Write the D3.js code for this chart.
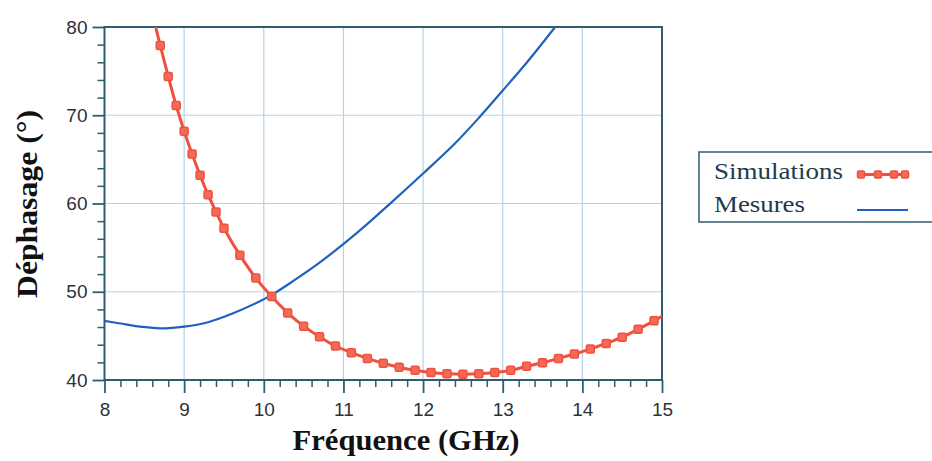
<!DOCTYPE html>
<html><head><meta charset="utf-8">
<script src="https://cdn.jsdelivr.net/npm/d3@7"></script>
<style>
html,body{margin:0;padding:0;background:#fff;}
svg{display:block;}
</style></head>
<body>
<svg id="chart" width="932" height="461"></svg>
<script>
// ---- data ----
const xTicks = [8, 9, 10, 11, 12, 13, 14, 15];
const yTicks = [40, 50, 60, 70, 80];
const simFreq = [8.6, 8.7, 8.8, 8.9, 9.0, 9.1, 9.2, 9.3, 9.4, 9.5, 9.7, 9.9, 10.1, 10.3, 10.5, 10.7, 10.9, 11.1, 11.3, 11.5, 11.7, 11.9, 12.1, 12.3, 12.5, 12.7, 12.9, 13.1, 13.3, 13.5, 13.7, 13.9, 14.1, 14.3, 14.5, 14.7, 14.9, 15.1];
const simVal  = [81.6, 77.9, 74.4, 71.1, 68.2, 65.6, 63.2, 61.0, 59.05, 57.2, 54.15, 51.55, 49.45, 47.6, 46.1, 44.9, 43.85, 43.1, 42.45, 41.9, 41.45, 41.1, 40.85, 40.7, 40.65, 40.7, 40.85, 41.1, 41.55, 41.95, 42.45, 42.95, 43.5, 44.15, 44.85, 45.75, 46.7, 47.75];
const mesFreq = [8.0, 8.2, 8.45, 8.7, 9.0, 9.3, 9.6, 9.9, 10.1, 10.35, 10.7, 11.2, 11.6, 12.0, 12.4, 12.7, 13.0, 13.3, 13.65, 13.8];
const mesVal  = [46.7, 46.4, 46.05, 45.85, 46.05, 46.55, 47.5, 48.7, 49.65, 51.1, 53.3, 56.9, 60.1, 63.4, 66.8, 69.7, 72.8, 75.95, 79.9, 81.65];
const seriesNames = ["Simulations", "Mesures"];

// ---- layout ----
const svg = d3.select("#chart");
const L = 104.5, R = 662, T = 27, B = 380;
const axisColor = "#2f5d70", gridColor = "#b3d4e5";
const redLine = "#f0503e", redFill = "#f46a58", blue = "#2061c0";
const serif = "'Liberation Serif', 'DejaVu Serif', serif";

const x = d3.scaleLinear().domain([8, 15]).range([L, R]);
const y = d3.scaleLinear().domain([40, 80]).range([B, T]);

svg.append("defs").append("clipPath").attr("id", "clip")
  .append("rect").attr("x", L).attr("y", T).attr("width", R - L).attr("height", B - T);

// grid
const grid = svg.append("g");
grid.selectAll("line.vx").data(xTicks.slice(1, -1)).join("line")
  .attr("x1", d => x(d)).attr("x2", d => x(d)).attr("y1", T).attr("y2", B)
  .attr("stroke", gridColor).attr("stroke-width", 1.2);
grid.selectAll("line.hy").data(yTicks.slice(1, -1)).join("line")
  .attr("y1", d => y(d)).attr("y2", d => y(d)).attr("x1", L).attr("x2", R)
  .attr("stroke", gridColor).attr("stroke-width", 1.2);

// minor ticks
const xMinor = d3.range(80, 151, 2).map(v => v / 10).filter(v => !xTicks.includes(v));
const yMinor = d3.range(40, 81, 2).filter(v => !yTicks.includes(v));

const gxMinor = svg.append("g").attr("transform", `translate(0,${B})`)
  .call(d3.axisBottom(x).tickValues(xMinor).tickSize(7).tickFormat(""));
const gyMinor = svg.append("g").attr("transform", `translate(${L},0)`)
  .call(d3.axisLeft(y).tickValues(yMinor).tickSize(7).tickFormat(""));
[gxMinor, gyMinor].forEach(g => {
  g.select(".domain").remove();
  g.selectAll("line").attr("stroke", axisColor).attr("stroke-width", 1.5);
});

// major axes
const gx = svg.append("g").attr("transform", `translate(0,${B})`)
  .call(d3.axisBottom(x).tickValues(xTicks).tickSize(13).tickPadding(10).tickFormat(d3.format("d")));
const gy = svg.append("g").attr("transform", `translate(${L},0)`)
  .call(d3.axisLeft(y).tickValues(yTicks).tickSize(12).tickPadding(5).tickFormat(d3.format("d")));
[gx, gy].forEach(g => {
  g.select(".domain").remove();
  g.selectAll("line").attr("stroke", axisColor).attr("stroke-width", 1.8);
  g.selectAll("text").attr("fill", "#2d3338")
    .style("font-family", "'Liberation Sans', Arial, sans-serif").style("font-size", "19px");
});

// frame
svg.append("rect").attr("x", L).attr("y", T).attr("width", R - L).attr("height", B - T)
  .attr("fill", "none").attr("stroke", axisColor).attr("stroke-width", 2);

// series
const plot = svg.append("g").attr("clip-path", "url(#clip)");
const simData = simFreq.map((f, i) => ({ f, v: simVal[i] }));
const mesData = mesFreq.map((f, i) => ({ f, v: mesVal[i] }));
const line = d3.line().x(d => x(d.f)).y(d => y(d.v)).curve(d3.curveCatmullRom.alpha(0.5));

plot.append("path").datum(mesData).attr("d", line)
  .attr("fill", "none").attr("stroke", blue).attr("stroke-width", 2.2);

plot.append("path").datum(simData).attr("d", line)
  .attr("fill", "none").attr("stroke", redLine).attr("stroke-width", 3);
const ms = 8;
plot.selectAll("rect.m").data(simData).join("rect")
  .attr("x", d => x(d.f) - ms / 2).attr("y", d => y(d.v) - ms / 2)
  .attr("width", ms).attr("height", ms).attr("rx", 1.5)
  .attr("fill", redFill).attr("stroke", redLine).attr("stroke-width", 1.5);

// axis titles
svg.append("text").attr("x", 406).attr("y", 450).attr("text-anchor", "middle")
  .attr("textLength", 227).attr("lengthAdjust", "spacingAndGlyphs")
  .style("font-family", serif).style("font-weight", "bold")
  .style("font-size", "29px").attr("fill", "#111").text("Fréquence (GHz)");
svg.append("text").attr("transform", "translate(37,204) rotate(-90)").attr("text-anchor", "middle")
  .attr("textLength", 188).attr("lengthAdjust", "spacingAndGlyphs")
  .style("font-family", serif).style("font-weight", "bold")
  .style("font-size", "29px").attr("fill", "#111").text("Déphasage (°)");

// legend
const lg = svg.append("g");
lg.append("rect").attr("x", 699).attr("y", 152).attr("width", 240).attr("height", 70)
  .attr("fill", "#fff").attr("stroke", axisColor).attr("stroke-width", 1.5);
const legW = [129, 91];
lg.selectAll("text").data(seriesNames).join("text")
  .attr("x", 714).attr("y", (d, i) => 179 + i * 32.5)
  .attr("textLength", (d, i) => legW[i]).attr("lengthAdjust", "spacingAndGlyphs")
  .style("font-family", serif).style("font-size", "23px")
  .attr("fill", "#1d3a4c").text(d => d);
lg.append("line").attr("x1", 857).attr("x2", 908).attr("y1", 174.5).attr("y2", 174.5)
  .attr("stroke", redLine).attr("stroke-width", 3);
lg.selectAll("rect.lm").data([861, 878, 894, 905]).join("rect")
  .attr("x", d => d - 3.5).attr("y", 171).attr("width", 7).attr("height", 7).attr("rx", 1.5)
  .attr("fill", redFill).attr("stroke", redLine).attr("stroke-width", 1.5);
lg.append("line").attr("x1", 857).attr("x2", 908).attr("y1", 210).attr("y2", 210)
  .attr("stroke", blue).attr("stroke-width", 2.2);
</script>
</body></html>
